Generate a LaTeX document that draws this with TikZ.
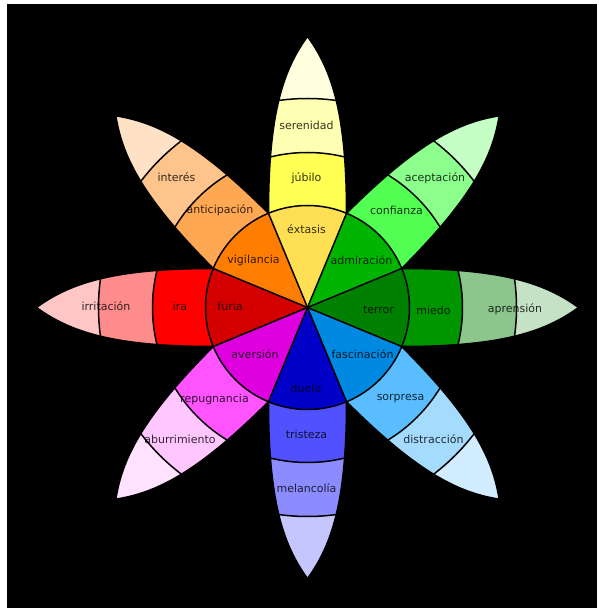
\documentclass[tikz,border=0pt]{standalone}
\usepackage{fontspec}
\setmainfont{DejaVu Sans}
\usetikzlibrary{positioning}
% intense / basic / mild / tip shades of each family
\definecolor{JoyA}{HTML}{FFE054}
\definecolor{JoyB}{HTML}{FFFF54}
\definecolor{JoyC}{HTML}{FFFFB1}
\definecolor{JoyD}{HTML}{FFFFE0}
\definecolor{TrustA}{HTML}{00B400}
\definecolor{TrustB}{HTML}{54FF54}
\definecolor{TrustC}{HTML}{8CFF8C}
\definecolor{TrustD}{HTML}{C6FFC6}
\definecolor{FearA}{HTML}{008000}
\definecolor{FearB}{HTML}{009600}
\definecolor{FearC}{HTML}{8CC68C}
\definecolor{FearD}{HTML}{C6E2C6}
\definecolor{SurpA}{HTML}{0089E0}
\definecolor{SurpB}{HTML}{59BDFF}
\definecolor{SurpC}{HTML}{A5DBFF}
\definecolor{SurpD}{HTML}{D2EDFF}
\definecolor{SadA}{HTML}{0000C8}
\definecolor{SadB}{HTML}{5151FF}
\definecolor{SadC}{HTML}{8C8CFF}
\definecolor{SadD}{HTML}{C6C6FF}
\definecolor{DisgA}{HTML}{DE00DE}
\definecolor{DisgB}{HTML}{FF54FF}
\definecolor{DisgC}{HTML}{FFC6FF}
\definecolor{DisgD}{HTML}{FFE2FF}
\definecolor{AngA}{HTML}{D40000}
\definecolor{AngB}{HTML}{FF0000}
\definecolor{AngC}{HTML}{FF8C8C}
\definecolor{AngD}{HTML}{FFC6C6}
\definecolor{AntA}{HTML}{FF7D00}
\definecolor{AntB}{HTML}{FFA854}
\definecolor{AntC}{HTML}{FFC48C}
\definecolor{AntD}{HTML}{FFE2C6}
\tikzset{
  wheelline/.style={black,line width=1.5pt},
  emo/.style={text=black,text opacity=0.8,inner sep=1pt,
    font=\fontsize{11}{13}\selectfont}
}
\newcommand{\drawpetal}[4]{%
  \begin{scope}[rotate=#1]
    \begin{scope}
      \clip (94.2,-39) .. controls (195,-39) and (238,-24) .. (271,0)
        .. controls (238,24) and (195,39) .. (94.2,39) -- (0,0) -- cycle;
      \fill[#4] (0,0) circle (275);
      \fill[#3] (0,0) circle (209);
      \fill[#2] (0,0) circle (155);
      \draw[wheelline] (0,0) circle (155) (0,0) circle (209);
    \end{scope}
    \draw[wheelline,line join=round] (94.2,-39) .. controls (195,-39) and (238,-24) .. (271,0)
      .. controls (238,24) and (195,39) .. (94.2,39);
  \end{scope}%
}
\newcommand{\drawsector}[2]{%
  \fill[#2] (0,0) -- ({#1-22.5}:102)
    arc[start angle={#1-22.5},end angle={#1+22.5},radius=102] -- cycle;%
}

\begin{document}
\begin{tikzpicture}[x=1pt,y=1pt]
  \useasboundingbox[fill=white] (-307.5,-302.5) rectangle (290.5,307.5);
  \fill[black] (-300.5,-300.5) rectangle (289.5,303.5);
  % petals
  \drawpetal{90}{JoyB}{JoyC}{JoyD}
  \drawpetal{45}{TrustB}{TrustC}{TrustD}
  \drawpetal{0}{FearB}{FearC}{FearD}
  \drawpetal{-45}{SurpB}{SurpC}{SurpD}
  \drawpetal{-90}{SadB}{SadC}{SadD}
  \drawpetal{-135}{DisgB}{DisgC}{DisgD}
  \drawpetal{180}{AngB}{AngC}{AngD}
  \drawpetal{135}{AntB}{AntC}{AntD}
  % centre circle
  \foreach \a/\c in {90/JoyA,45/TrustA,0/FearA,-45/SurpA,
    -90/SadA,-135/DisgA,180/AngA,135/AntA}{\drawsector{\a}{\c}}
  \coordinate (hub) at (0,0);
  \foreach \a in {22.5,67.5,...,337.5}{\draw[wheelline] (hub) -- (\a:102);}
  \draw[wheelline] (hub) circle (102);
  % labels
  \foreach \n/\x/\y/\t in {
    serenidad/-1/182.5/serenidad, jubilo/-1/129/júbilo, extasis/-1/78.5/éxtasis,
    interes/-131/130/interés, anticipacion/-87.5/97.5/anticipación,
    vigilancia/-54/47/vigilancia,
    aceptacion/127.5/129/aceptación, confianza/89/97.5/confianza,
    admiracion/54/47/admiración,
    irritacion/-201.5/1.5/irritación, ira/-127.5/1.5/ira, furia/-77.5/1.5/furia,
    terror/71/-2/terror, miedo/126/-2.5/miedo, aprension/207.5/-1.5/aprensión,
    aversion/-52.5/-46.5/aversión, repugnancia/-93/-91.5/repugnancia,
    aburrimiento/-127.5/-132/aburrimiento,
    fascinacion/55/-46.5/fascinación, sorpresa/93/-91/sorpresa,
    distraccion/126/-132/distracción,
    duelo/-1.5/-81/duelo, tristeza/-1/-127/tristeza, melancolia/-1/-181/melancolía}
    {\node[emo] (\n) at (\x,\y) {\t};}
\end{tikzpicture}
\end{document}
